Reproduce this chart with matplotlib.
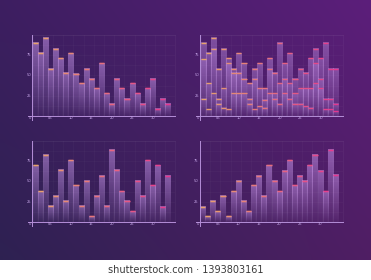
import numpy as np
import matplotlib
matplotlib.use("Agg")
import matplotlib.pyplot as plt

# ---------------- data ----------------
x_labels = ["0", "05", "10", "15", "20", "25", "30"]
y_ticks = [25, 50, 75]

p1_values = [90, 78, 96, 58, 83, 71, 53, 77, 52, 40, 58, 46, 34, 65, 28, 15,
             46, 34, 21, 40, 28, 15, 34, 46, 9, 21, 15]

p2_high = [90, 78, 96, 58, 83, 71, 58, 77, 65, 40, 58, 65, 34, 71, 53, 90,
           65, 77, 46, 58, 53, 71, 83, 71, 90, 58, 58]
p2_mid = [70, 40, 83, 21, 34, 65, 53, 53, 46, 21, 46, 34, 20, 58, 28, 40,
          46, 40, 28, 34, 34, 34, 65, 46, 21, 21, 15]
p2_low = [21, 8, 28, 15, 10, 8, 28, 28, 28, 15, 8, 12, 10, 28, 21, 15,
          28, 21, 15, 15, 12, 10, 40, 34, 8, 8, 6]

p3_values = [70, 38, 83, 20, 32, 64, 26, 76, 45, 20, 51, 7, 32, 57, 20, 89,
             64, 38, 26, 13, 51, 32, 76, 45, 70, 19, 57]

p4_values = [19, 7, 26, 13, 32, 7, 38, 51, 26, 13, 45, 57, 32, 70, 51, 38,
             63, 76, 45, 57, 51, 70, 83, 63, 38, 89, 58]

W, H = 371, 280
fig = plt.figure(figsize=(W / 100, H / 100), dpi=100, facecolor="white")

# ---------------- background gradient ----------------
bg = fig.add_axes([0, 20 / H, 1, 260 / H])
bg.set_axis_off()
tl = np.array([0.24, 0.12, 0.38]); tr = np.array([0.36, 0.12, 0.48])
bl = np.array([0.18, 0.13, 0.32]); br = np.array([0.31, 0.12, 0.39])
ny, nx = 60, 80
u = np.linspace(0, 1, nx)[None, :, None]
v = np.linspace(0, 1, ny)[:, None, None]
img = (1 - v) * ((1 - u) * tl + u * tr) + v * ((1 - u) * bl + u * br)
bg.imshow(img, extent=(0, 1, 0, 1), aspect="auto", interpolation="bilinear")
bg.set_xlim(0, 1); bg.set_ylim(0, 1)

fig.text(0.5, 10 / H, "shutterstock.com \u00b7 1393803161", ha="center",
         va="center", fontsize=7, color="#3a3a3a")

ORANGE = np.array([0.91, 0.64, 0.42])
PINK = np.array([0.90, 0.22, 0.56])
LINE = "#b48ed8"
TXT = "#c4a4e6"

XL0, XL1 = -0.6, 27.4
PX_PER_UNIT_X = 5.11
PX_PER_UNIT_Y = 0.813
YMAX = 100


def grad_img(alpha_top, alpha_bot):
    n = 64
    a = np.linspace(alpha_top, alpha_bot, n)[:, None]
    rgba = np.zeros((n, 1, 4))
    rgba[..., 0] = 0.86
    rgba[..., 1] = 0.66
    rgba[..., 2] = 1.0
    rgba[..., 3] = a
    return rgba


def make_axes(left_px, base_px):
    w = (XL1 - XL0) * PX_PER_UNIT_X
    h = YMAX * PX_PER_UNIT_Y
    ax = fig.add_axes([left_px / W, (H - base_px) / H, w / W, h / H])
    ax.set_xlim(XL0, XL1)
    ax.set_ylim(0, YMAX)
    ax.patch.set_alpha(0)
    for s in ax.spines.values():
        s.set_color("white")
        s.set_alpha(0.06)
        s.set_linewidth(0.5)
    ax.set_xticks(np.arange(-0.5, 27.6, 2.0))
    ax.set_yticks(np.arange(0, 101, 12.5))
    ax.tick_params(length=0, labelbottom=False, labelleft=False)
    ax.grid(True, color="white", alpha=0.045, linewidth=0.4)
    ax.set_axisbelow(True)
    # axis lines with overhang
    ax.plot([XL0 - 0.7, XL1], [0, 0], color=LINE, lw=0.7, clip_on=False, zorder=6)
    ax.plot([XL0, XL0], [-5, YMAX], color=LINE, lw=0.7, clip_on=False, zorder=6)
    for yt in y_ticks:
        ax.text(XL0 - 0.15, yt, str(yt), ha="right", va="center",
                fontsize=2.6, color=TXT, zorder=7, clip_on=False)
    for k, lab in enumerate(x_labels):
        ax.text(-1 + 4 * k, -2.2, lab, ha="center", va="center",
                fontsize=2.6, color=TXT, zorder=7, clip_on=False)
    return ax


def draw_bars(ax, values, a_top=0.46, a_bot=0.04, z=2, cap_lw=0.9):
    n = len(values)
    g = grad_img(a_top, a_bot)
    for i, val in enumerate(values):
        ax.imshow(g, extent=(i - 0.5, i + 0.5, 0, val), aspect="auto",
                  interpolation="bilinear", zorder=z)
    ax.bar(range(n), values, width=1.0, facecolor="none",
           edgecolor="white", alpha=0.05, linewidth=0.3, zorder=z + 0.1)
    for i, val in enumerate(values):
        t = i / (n - 1)
        c = (1 - t) * ORANGE + t * PINK
        ax.plot([i - 0.5, i + 0.5], [val, val], color=c, lw=2.0, alpha=0.2,
                solid_capstyle="butt", zorder=z + 0.2)
        ax.plot([i - 0.5, i + 0.5], [val, val], color=c, lw=cap_lw,
                solid_capstyle="butt", zorder=z + 0.3)
    ax.set_xlim(XL0, XL1)
    ax.set_ylim(0, YMAX)


ax1 = make_axes(32, 116)
draw_bars(ax1, p1_values)

ax2 = make_axes(200, 116)
draw_bars(ax2, p2_high, 0.36, 0.03, 2, 0.8)
draw_bars(ax2, p2_mid, 0.26, 0.02, 3, 0.7)
draw_bars(ax2, p2_low, 0.2, 0.02, 4, 0.7)

ax3 = make_axes(32, 222)
draw_bars(ax3, p3_values)

ax4 = make_axes(199.5, 222)
draw_bars(ax4, p4_values)

fig.savefig("out.png", dpi=100, facecolor="white")
